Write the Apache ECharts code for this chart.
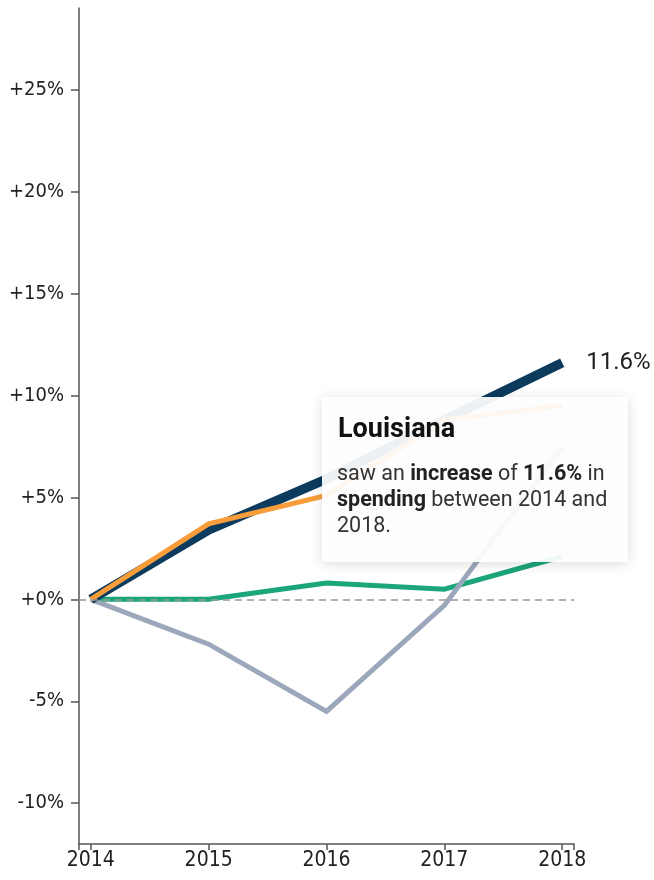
<!DOCTYPE html>
<html>
<head>
<meta charset="utf-8">
<script src="https://cdn.jsdelivr.net/npm/echarts@6/dist/echarts.min.js"></script>
<style>
html,body{margin:0;padding:0;background:#fff;}
#chart{width:654px;height:880px;}
</style>
</head>
<body>
<div id="chart"></div>
<script>
const years = [2014, 2015, 2016, 2017, 2018];
const louisiana = [0, 3.4, 5.9, 8.8, 11.6];
const seriesOrange = [0, 3.7, 5.1, 8.8, 9.5];
const seriesGreen = [0, 0, 0.8, 0.5, 2.1];
const seriesGray = [0, -2.2, -5.5, -0.3, 7.5];
const yTicks = [-10, -5, 0, 5, 10, 15, 20, 25];
const xTicks = [2014, 2015, 2016, 2017, 2018];
const stateName = 'Louisiana';

const pairs = arr => years.map((y, i) => [y, arr[i]]);
const axisFont = "'Liberation Sans Narrow', 'DejaVu Sans Condensed', Roboto, sans-serif";

const chart = echarts.init(document.getElementById('chart'));
const lineSeries = (name, data, color, width, extra) => Object.assign({
  name, type: 'line', data: pairs(data), symbol: 'none', silent: true,
  lineStyle: { color, width, cap: 'butt', join: 'miter' }, z: 3, animation: false
}, extra || {});

chart.setOption({
  animation: false,
  grid: { left: 79, right: 80, top: 8, bottom: 36, containLabel: false },
  xAxis: {
    type: 'value', min: 2013.9, max: 2018.1,
    axisLine: { show: true, onZero: false, lineStyle: { color: '#555', width: 1.5 } },
    axisTick: { show: true, length: 6, customValues: [2013.9].concat(xTicks, [2018.1]), lineStyle: { color: '#555', width: 1.5 } },
    axisLabel: { customValues: xTicks, margin: 6, fontSize: 21, color: '#222', fontFamily: axisFont, formatter: v => String(v) },
    splitLine: { show: false }
  },
  yAxis: {
    type: 'value', min: -12, max: 29,
    axisLine: { show: true, onZero: false, lineStyle: { color: '#555', width: 1.5 } },
    axisTick: { show: true, length: 8, customValues: yTicks, lineStyle: { color: '#555', width: 1.5 } },
    axisLabel: { customValues: yTicks, margin: 15, fontSize: 20, color: '#222', fontFamily: axisFont,
      formatter: v => (v >= 0 ? '+' : '') + v + '%' },
    splitLine: { show: false }
  },
  series: [
    { name: 'zero', type: 'line', data: [], silent: true, z: 2,
      markLine: { silent: true, symbol: 'none', label: { show: false },
        lineStyle: { color: '#999', width: 1.5, type: [7, 5] },
        data: [{ yAxis: 0 }] } },
    lineSeries('Green', seriesGreen, '#1ba57b', 5),
    lineSeries('Gray', seriesGray, '#9ba8bb', 5),
    lineSeries(stateName, louisiana, '#0c3b5e', 9.5, {
      endLabel: { show: true, distance: 24, formatter: p => p.value[1] + '%',
        fontSize: 24, color: '#222', fontFamily: 'Roboto, sans-serif' }
    }),
    lineSeries('Orange', seriesOrange, '#f99d3a', 5)
  ],
  graphic: [{
    type: 'group', left: 322, top: 397, z: 100, zlevel: 1,
    children: [
      { type: 'rect', z: 100, zlevel: 1, shape: { x: 0, y: 0, width: 306, height: 165 },
        style: { fill: 'rgba(255,255,255,0.93)', shadowBlur: 12, shadowColor: 'rgba(0,0,0,0.15)', shadowOffsetY: 2 } },
      { type: 'text', z: 101, zlevel: 1, x: 16, y: 33,
        style: { text: stateName, font: 'bold 27px Roboto, sans-serif', fill: '#111', verticalAlign: 'middle' } },
      { type: 'text', z: 101, zlevel: 1, x: 15, y: 65,
        style: {
          text: 'saw an {b|increase} of {b|' + louisiana[4] + '%} in\n{b|spending} between ' + years[0] + ' and\n' + years[years.length - 1] + '.',
          font: '21.5px Roboto, sans-serif', fill: '#333', lineHeight: 26, verticalAlign: 'top',
          rich: { b: { fontWeight: 'bold', fontSize: 21.5, fontFamily: 'Roboto, sans-serif', fill: '#222', lineHeight: 26 } }
        } }
    ]
  }]
});
</script>
</body>
</html>
